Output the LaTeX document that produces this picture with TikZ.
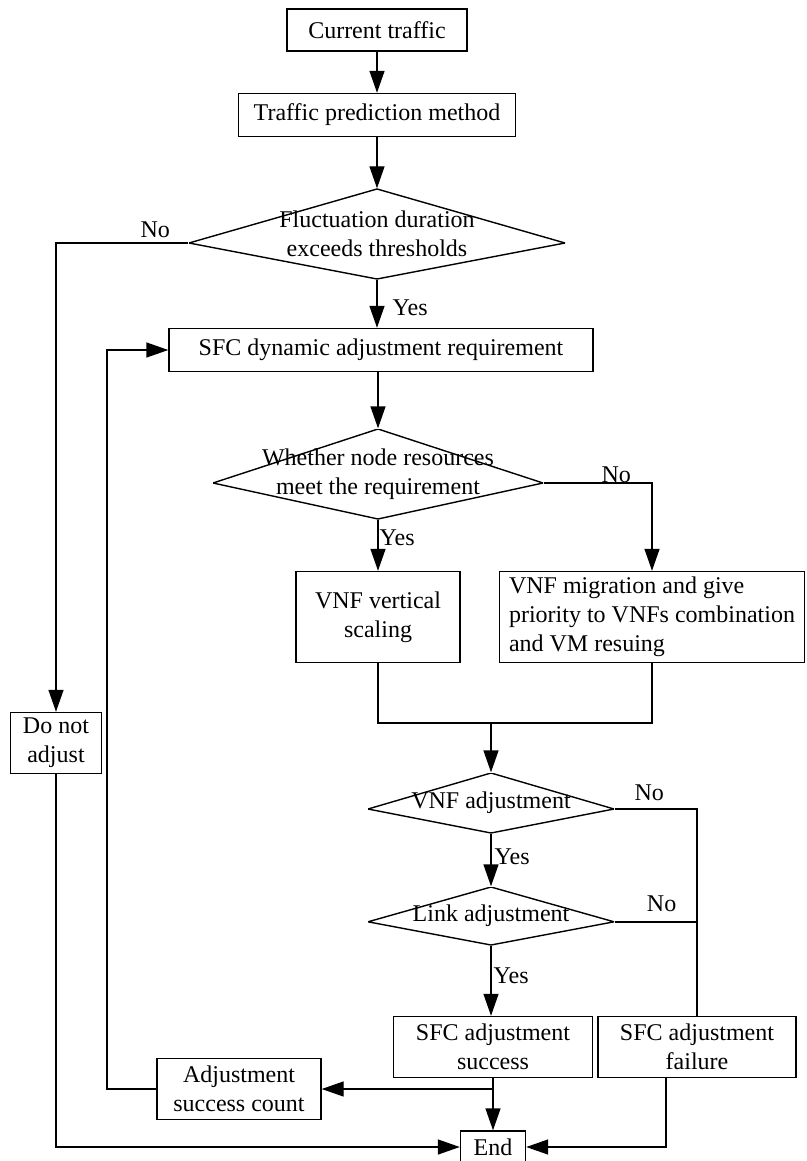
\documentclass[tikz,border=0pt]{standalone}
\usepackage{fontspec}
\setmainfont{Liberation Serif}
\usetikzlibrary{calc,arrows.meta}

\begin{document}
\begin{tikzpicture}[x=1pt,y=-1pt,line width=1.4pt,
   font=\fontsize{24}{29}\selectfont,
   >={Triangle[length=22pt,width=15pt]}]
   \tikzset{Box/.style = {draw, rectangle, inner sep=0pt, align=center}}
   \tikzset{Decision/.style = {rectangle, inner sep=0pt, align=center,
      path picture={\draw (path picture bounding box.north)
         -- ($(path picture bounding box.north west)!0.6!(path picture bounding box.south west)$)
         -- (path picture bounding box.south)
         -- ($(path picture bounding box.north east)!0.6!(path picture bounding box.south east)$)
         -- cycle;}}}
   \tikzset{Tag/.style = {inner sep=0pt}}
   \useasboundingbox (0,0) rectangle (806,1161);
   \node[Box, minimum width=180pt, minimum height=42pt] (current) at (377,30) {Current traffic};
   \node[Box, minimum width=277pt, minimum height=43pt] (predict) at (377,115) {Traffic prediction method};
   \node[Decision, minimum width=376pt, minimum height=90pt] (fluct) at (377,234) {Fluctuation duration\\exceeds thresholds};
   \node[Box, minimum width=424pt, minimum height=43pt] (dynamic) at (381,350) {SFC dynamic adjustment requirement};
   \node[Decision, minimum width=330pt, minimum height=90pt] (resource) at (378,474) {Whether node resources\\meet the requirement};
   \node[Box, minimum width=164pt, minimum height=91pt] (vertical) at (378,617) {VNF vertical\\scaling};
   \node[Box, minimum width=305pt, minimum height=91pt, align=left] (migrate) at (652,617) {VNF migration and give\\priority to VNFs combination\\and VM resuing};
   \node[Box, minimum width=91pt, minimum height=61pt] (noadjust) at (56,743) {Do not\\adjust};
   \node[Decision, minimum width=246pt, minimum height=60pt] (vnfadj) at (491,803) {VNF adjustment};
   \node[Decision, minimum width=246pt, minimum height=58pt] (linkadj) at (491,916) {Link adjustment};
   \node[Box, minimum width=199pt, minimum height=61pt] (success) at (493,1047) {SFC adjustment\\success};
   \node[Box, minimum width=198pt, minimum height=61pt] (failure) at (697,1047) {SFC adjustment\\failure};
   \node[Box, minimum width=164pt, minimum height=61pt] (count) at (239,1089) {Adjustment\\success count};
   \node[Box, minimum width=65pt, minimum height=32pt] (end) at (493,1147) {End};
   \coordinate (fluctw) at ([yshift=-9pt]fluct.west);
   \coordinate (resourcee) at ([yshift=-9pt]resource.east);
   \coordinate (vnfadje) at ([yshift=-6pt]vnfadj.east);
   \coordinate (linkadje) at ([yshift=-6pt]linkadj.east);
   \coordinate (join) at (491,723);
   \coordinate (back) at (107,1089);
   \draw[->] (current) -- (predict);
   \draw[->] (predict) -- (fluct);
   \draw[->] (fluctw) -| node[Tag, above=5pt, pos=0.125] (no1) {No} (noadjust.north);
   \draw[->] (fluct) -- node[Tag, right=15pt, pos=0.58] (yes1) {Yes} (fluct |- dynamic.north);
   \draw[->] (resource |- dynamic.south) -- (resource);
   \draw[->] (resourcee) -| node[Tag, above=0pt, pos=0.335] (no2) {No} (migrate.north);
   \draw[->] (resource) -- node[Tag, right=1pt, pos=0.36] (yes2) {Yes} (vertical);
   \draw (vertical.south) |- (join) -| (migrate.south);
   \draw[->] (join) -- (vnfadj);
   \draw[->] (vnfadj) -- node[Tag, right=3pt, pos=0.44] (yes3) {Yes} (linkadj);
   \draw (vnfadje) -| node[Tag, above=8pt, pos=0.21] (no3) {No} (failure.north);
   \draw (linkadje) -- node[Tag, above=10pt, pos=0.57] (no4) {No} (linkadje -| failure.north);
   \draw[->] (linkadj) -- node[Tag, right=2pt, pos=0.43] (yes4) {Yes} (linkadj |- success.north);
   \draw[->] (success) -- (end);
   \draw[->] (success.south |- count.east) -- (count.east);
   \draw[->] (count.west) -- (back) |- (dynamic.west);
   \draw[->] (noadjust.south) |- (end.west);
   \draw[->] ([xshift=-31pt]failure.south) |- (end.east);
\end{tikzpicture}
\end{document}
